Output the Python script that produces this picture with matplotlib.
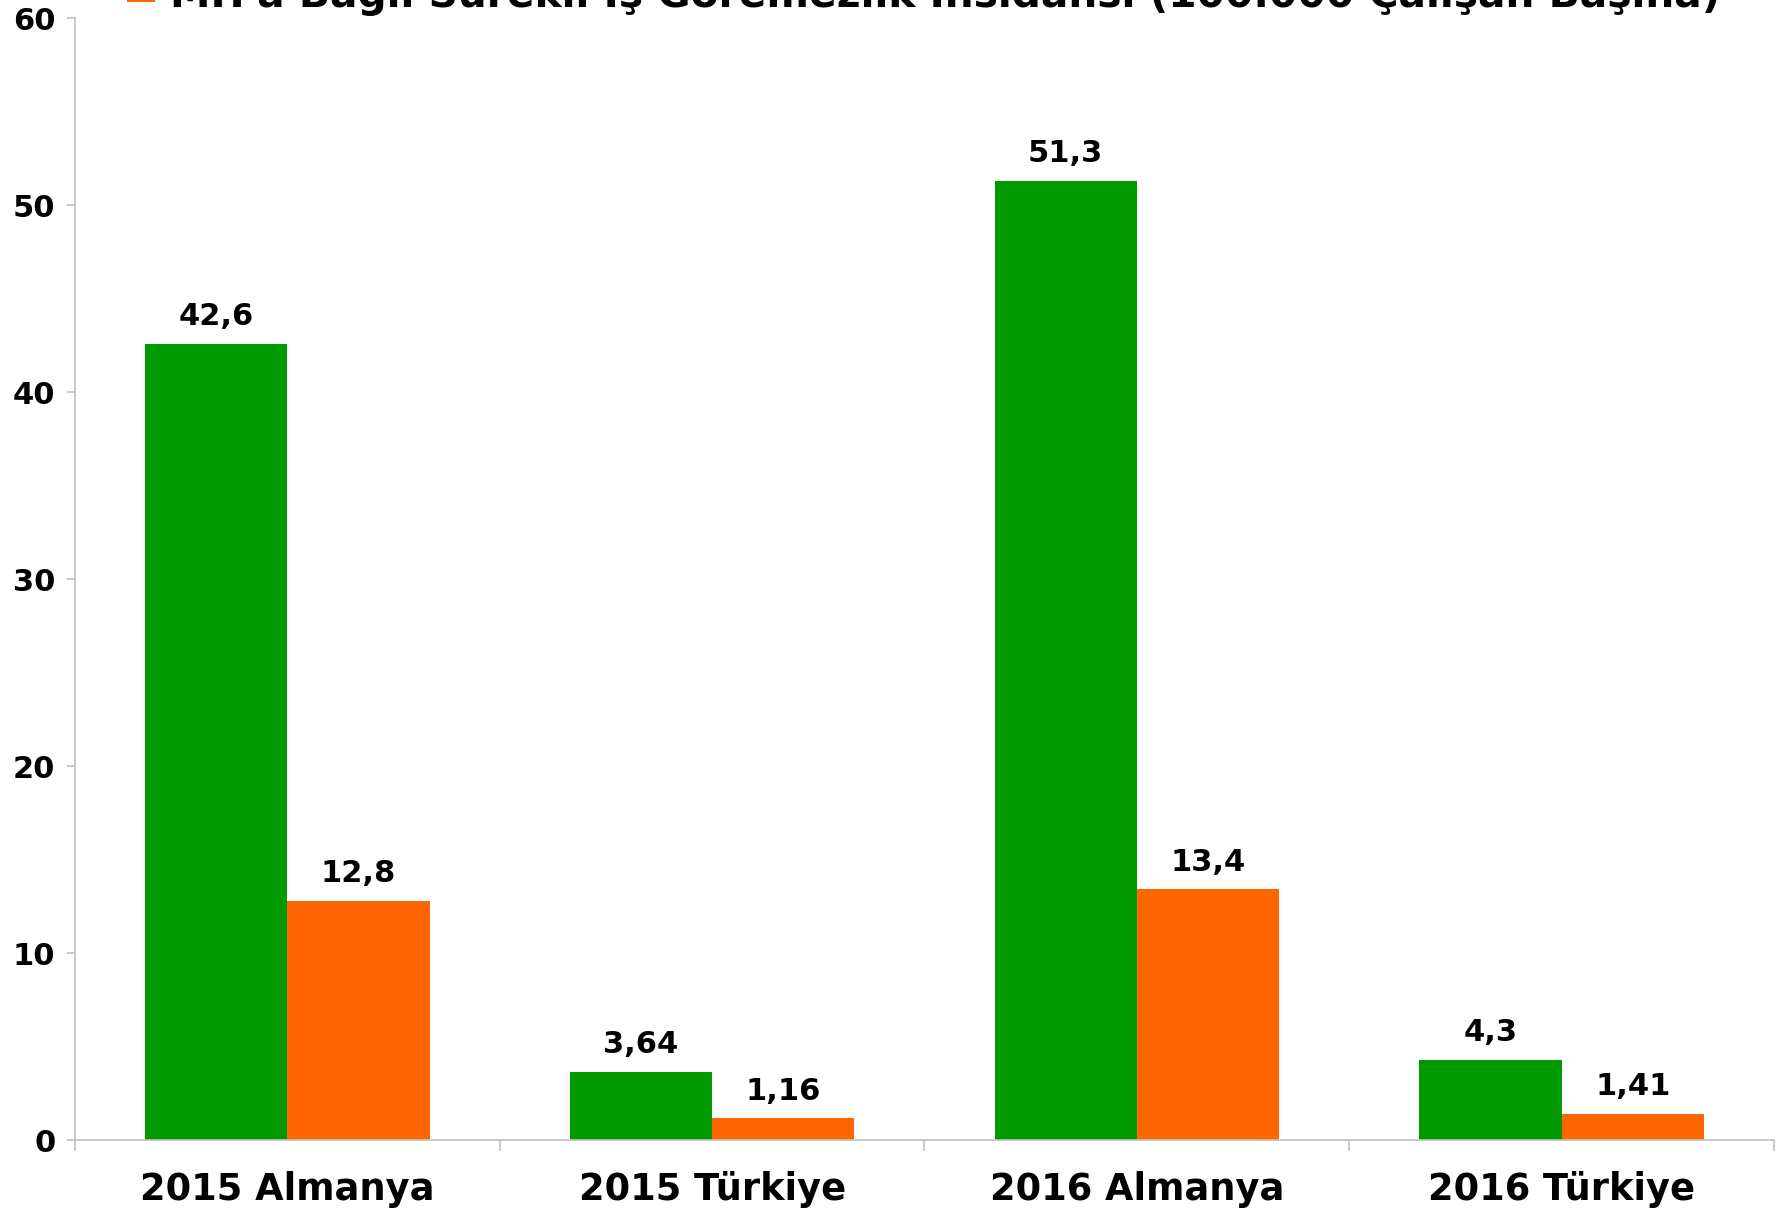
import numpy as np
import matplotlib
matplotlib.use("Agg")
import matplotlib.pyplot as plt

plt.rcParams['font.family'] = ['DejaVu Sans']
plt.rcParams['font.weight'] = 'bold'

categories = ["2015 Almanya", "2015 Türkiye", "2016 Almanya", "2016 Türkiye"]
is_kazasi = [42.6, 3.64, 51.3, 4.3]
meslek_hast = [12.8, 1.16, 13.4, 1.41]
label_green = ["42,6", "3,64", "51,3", "4,3"]
label_orange = ["12,8", "1,16", "13,4", "1,41"]
series_names = ["İş Kazasına Bağlı Sürekli İş Göremezlik İnsidansı (100.000 Çalışan Başına)",
                "MH'a Bağlı Sürekli İş Göremezlik İnsidansı (100.000 Çalışan Başına)"]

green = "#009900"
orange = "#ff6600"
grey = "#c0c0c0"

fig = plt.figure(figsize=(17.83, 12.12), dpi=100)
ax = fig.add_axes([0.042, 0.0594, 0.953, 0.9256])

x = np.arange(len(categories))
w = 0.335
b1 = ax.bar(x - w / 2, is_kazasi, w, color=green, label=series_names[0])
b2 = ax.bar(x + w / 2, meslek_hast, w, color=orange, label=series_names[1])

for bars, labs in ((b1, label_green), (b2, label_orange)):
    for r, t in zip(bars, labs):
        ax.annotate(t, (r.get_x() + r.get_width() / 2, r.get_height()),
                    xytext=(0, 9), textcoords="offset points",
                    ha="center", va="bottom", fontsize=22, fontweight="bold")

ax.set_xlim(-0.5, 3.5)
ax.set_ylim(0, 60)
ax.set_yticks(range(0, 61, 10))
ax.set_xticks(x)
ax.set_xticklabels(categories, fontsize=26.5, fontweight="bold")
ax.set_xticks(np.arange(-0.5, 4.0, 1.0), minor=True)
ax.tick_params(axis="x", which="major", length=0, pad=22)
ax.tick_params(axis="x", which="minor", length=8, color=grey, width=1.2)
ax.tick_params(axis="y", length=6, color=grey, width=1.2, pad=8, labelsize=22)
for lab in ax.get_yticklabels():
    lab.set_fontweight("bold")

for s in ("top", "right"):
    ax.spines[s].set_visible(False)
for s in ("left", "bottom"):
    ax.spines[s].set_color(grey)
    ax.spines[s].set_linewidth(1.2)

# upper entry sits above the figure edge, as in the original crop
leg = fig.legend(handles=[b1, b2], loc="lower left", bbox_to_anchor=(0.0712, 0.987),
                 frameon=False, fontsize=29.3, handlelength=0.7, handleheight=0.4,
                 handletextpad=0.35, borderaxespad=0, borderpad=0, labelspacing=0.3)
for t in leg.get_texts():
    t.set_fontweight("bold")

fig.savefig("out.png", dpi=100)
